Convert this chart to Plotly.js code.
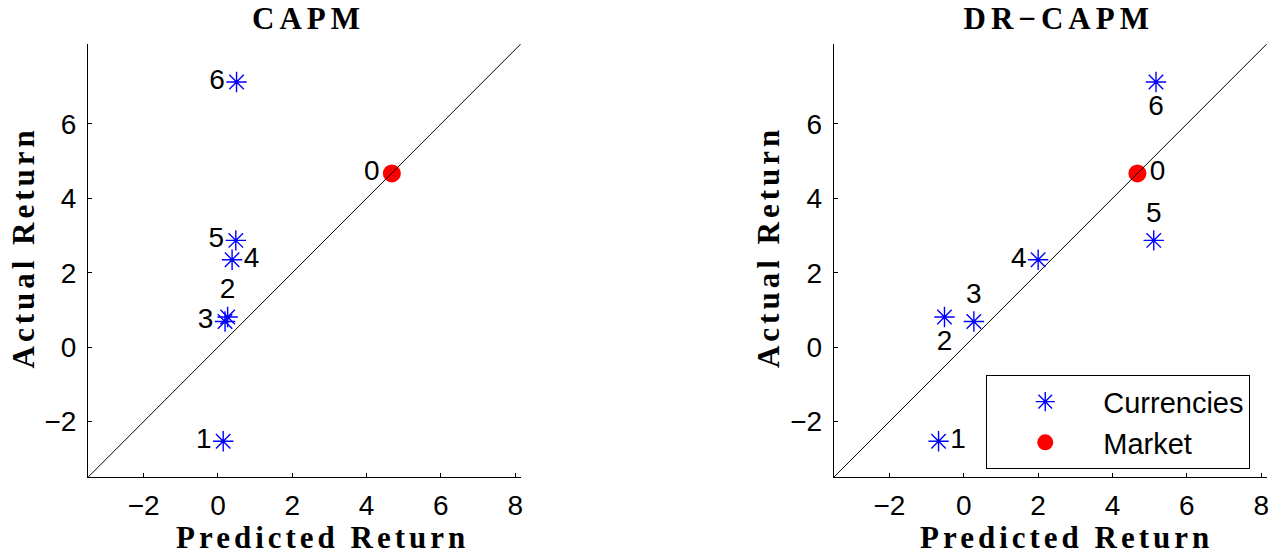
<!DOCTYPE html>
<html>
<head>
<meta charset="utf-8">
<script src="https://cdn.plot.ly/plotly-3.0.1.min.js"></script>
<style>
    html, body { margin: 0; padding: 0; background: #fff; }
    #chart { width: 1288px; height: 558px; }
    /* espaciado de letras de los títulos (estilo LaTeX) */
    g.annotation[data-index="0"] text, g.annotation[data-index="1"] text { letter-spacing: 5px; }
    g.annotation[data-index="2"] text, g.annotation[data-index="3"] text,
    g.annotation[data-index="4"] text, g.annotation[data-index="5"] text { letter-spacing: 4px; }
</style>
</head>
<body>
<div id="chart"></div>
<script>
// --- Datos ---
const currencyLabels = ['1', '2', '3', '4', '5', '6'];
const actualReturn = [-2.53, 0.81, 0.69, 2.35, 2.87, 7.13];
const capmPredicted = [0.14, 0.26, 0.19, 0.38, 0.48, 0.50];
const drPredicted = [-0.68, -0.52, 0.27, 2.00, 5.11, 5.17];

const marketLabel = ['0'];
const marketActual = [4.67];
const capmMarketPredicted = [4.68];
const drMarketPredicted = [4.67];

const diagonal = [-3.5, 8.15];
const xTicks = [-2, 0, 2, 4, 6, 8];
const yTicks = [-2, 0, 2, 4, 6];

const sans = 'Liberation Sans, Arial, sans-serif';
const serif = 'Liberation Serif, Times New Roman, serif';
const labelFont = { family: sans, size: 28, color: '#000' };

function marketTrace(xa, ya, pred, pos, show) {
    return {
        x: pred, y: marketActual, text: marketLabel,
        xaxis: xa, yaxis: ya,
        type: 'scatter', mode: 'markers+text',
        name: 'Market', legendgroup: 'market', legendrank: 2, showlegend: show,
        textposition: pos, textfont: labelFont,
        marker: { symbol: 'circle', size: 18, color: '#ff0000' },
        cliponaxis: false
    };
}

function lineTrace(xa, ya) {
    return {
        x: diagonal, y: diagonal, xaxis: xa, yaxis: ya,
        type: 'scatter', mode: 'lines', showlegend: false,
        line: { color: '#000', width: 1 }
    };
}

function currencyTrace(xa, ya, pred, pos, show) {
    return {
        x: pred, y: actualReturn, text: currencyLabels,
        xaxis: xa, yaxis: ya,
        type: 'scatter', mode: 'markers+text',
        name: 'Currencies', legendgroup: 'cur', legendrank: 1, showlegend: show,
        textposition: pos, textfont: labelFont,
        marker: { symbol: 'asterisk-open', size: 17, color: '#0000ff', line: { color: '#0000ff', width: 1.4 } },
        cliponaxis: false
    };
}

const data = [
    marketTrace('x', 'y', capmMarketPredicted, 'middle left', true),
    lineTrace('x', 'y'),
    currencyTrace('x', 'y', capmPredicted,
        ['middle left', 'top center', 'middle left', 'middle right', 'middle left', 'middle left'], true),
    marketTrace('x2', 'y2', drMarketPredicted, 'middle right', false),
    lineTrace('x2', 'y2'),
    currencyTrace('x2', 'y2', drPredicted,
        ['middle right', 'bottom center', 'top center', 'middle left', 'top center', 'bottom center'], false)
];

function xAxis(domain, anchor) {
    return {
        domain: domain, anchor: anchor, range: diagonal,
        tickvals: xTicks, ticks: 'inside', ticklen: 4, tickcolor: '#000',
        ticklabelstandoff: 3,
        tickfont: labelFont, showgrid: false, zeroline: false,
        showline: true, linecolor: '#000', linewidth: 1, fixedrange: true
    };
}

function yAxis(anchor) {
    return {
        domain: [0.1446, 0.9211], anchor: anchor, range: diagonal,
        tickvals: yTicks, ticks: 'inside', ticklen: 4, tickcolor: '#000',
        ticklabelstandoff: 5,
        tickfont: labelFont, showgrid: false, zeroline: false,
        showline: true, linecolor: '#000', linewidth: 1, fixedrange: true
    };
}

const titleFont = { family: serif, size: 31, color: '#000', weight: 'bold' };

function title(text, x, y, angle) {
    return {
        text: text, xref: 'paper', yref: 'paper', x: x, y: y,
        xanchor: 'center', yanchor: 'middle', showarrow: false,
        textangle: angle || 0, font: titleFont
    };
}

const layout = {
    width: 1288, height: 558,
    margin: { l: 0, r: 0, t: 0, b: 0 },
    paper_bgcolor: '#fff', plot_bgcolor: '#fff',
    showlegend: true,
    xaxis: xAxis([0.0683, 0.4043], 'y'),
    yaxis: yAxis('x'),
    xaxis2: xAxis([0.6473, 0.9835], 'y2'),
    yaxis2: yAxis('x2'),
    legend: {
        x: 0.7655, y: 0.328, xanchor: 'left', yanchor: 'top',
        bgcolor: '#fff', bordercolor: '#000', borderwidth: 1.3,
        font: { family: sans, size: 29, color: '#000' },
        itemwidth: 106, tracegroupgap: 0
    },
    annotations: [
        title('CAPM', 0.2399, 0.966),
        title('DR\u2212CAPM', 0.8218, 0.966),
        title('Predicted Return', 0.25, 0.036),
        title('Predicted Return', 0.8277, 0.036),
        title('Actual Return', 0.0182, 0.5573, -90),
        title('Actual Return', 0.5963, 0.5573, -90)
    ]
};

Plotly.newPlot('chart', data, layout, { displayModeBar: false, staticPlot: true });
</script>
</body>
</html>
